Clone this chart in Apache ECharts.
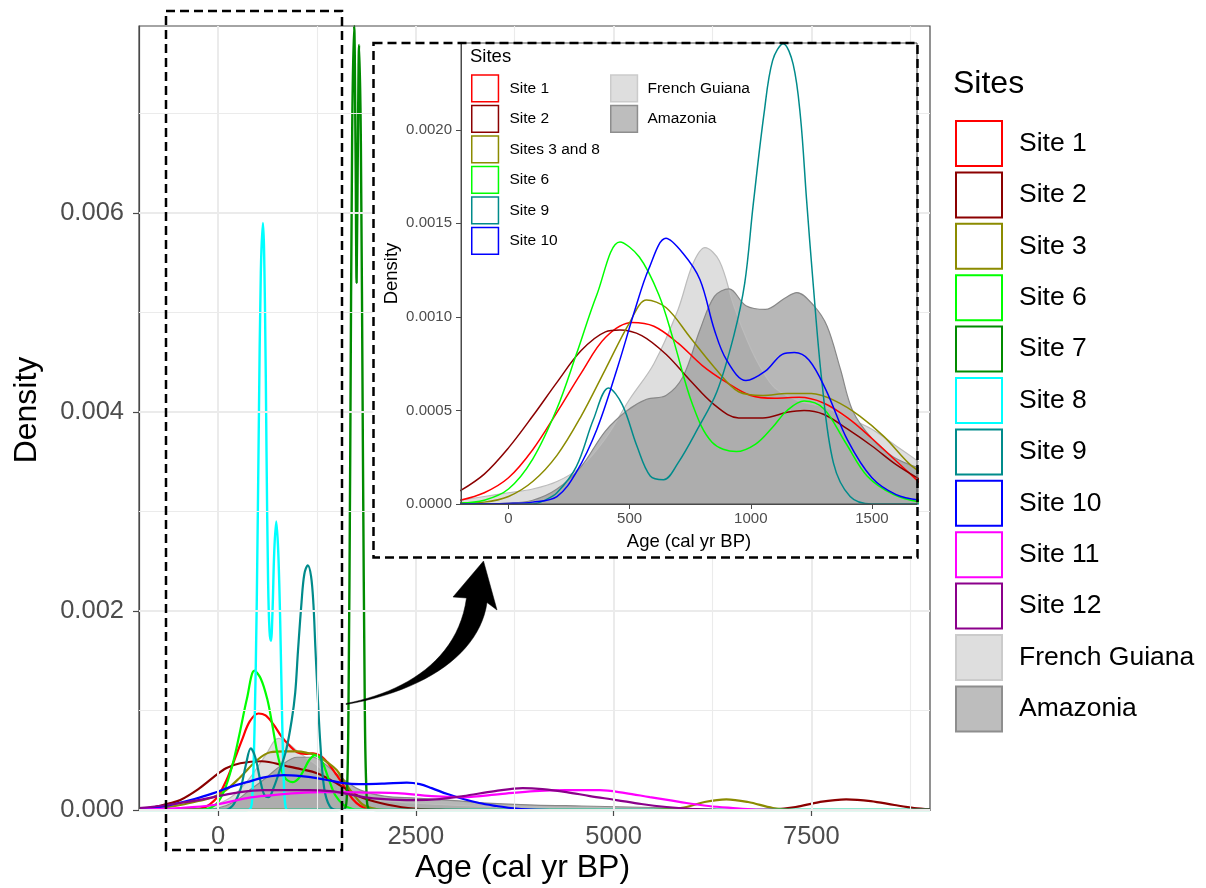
<!DOCTYPE html>
<html><head><meta charset="utf-8">
<script src="https://cdn.jsdelivr.net/npm/echarts@6/dist/echarts.min.js"></script>
<style>html,body{margin:0;padding:0;background:#fff}#c{width:1206px;height:888px}</style>
</head><body><div id="c"></div>
<script>
const FONT = '"Liberation Sans", Arial, Helvetica, sans-serif';

// ---------- tick values ----------
const mainXTicks = [0, 2500, 5000, 7500];
const mainXMinor = [1250, 3750, 6250, 8750];
const mainYTicks = [0, 0.002, 0.004, 0.006];
const mainYMinor = [0.001, 0.003, 0.005, 0.007];
const insetXTicks = [0, 500, 1000, 1500];
const insetXMinor = [250, 750, 1250];
const insetYTicks = [0, 0.0005, 0.001, 0.0015, 0.002];
const insetYMinor = [0.00025, 0.00075, 0.00125, 0.00175, 0.00225];

// ---------- legend names ----------
const mainLegendNames = ['Site 1','Site 2','Site 3','Site 6','Site 7','Site 8','Site 9','Site 10','Site 11','Site 12','French Guiana','Amazonia'];
const insetLegendNames1 = ['Site 1','Site 2','Sites 3 and 8','Site 6','Site 9','Site 10'];
const insetLegendNames2 = ['French Guiana','Amazonia'];

// ---------- inset data (age, density) ----------
const insetSite1 = [[-200,0.00002],[-100,0.00006],[0,0.00014],[100,0.00029],[200,0.00049],[300,0.0007],[400,0.00089],[510,0.00097],[600,0.00095],[700,0.00086],[800,0.00074],[900,0.00065],[1000,0.00058],[1100,0.000565],[1200,0.00057],[1300,0.00054],[1400,0.00046],[1500,0.00035],[1600,0.00023],[1700,0.00011]];
const insetSite2 = [[-200,0.00007],[-100,0.00016],[0,0.0003],[100,0.00047],[200,0.00065],[300,0.00082],[400,0.00092],[460,0.00093],[550,0.0009],[650,0.0008],[750,0.00066],[850,0.00053],[950,0.00046],[1050,0.00046],[1150,0.00049],[1220,0.0005],[1300,0.00048],[1400,0.0004],[1500,0.00031],[1600,0.00021],[1700,0.00013]];
const insetSites38 = [[-200,0.000005],[-100,0.00001],[0,0.00004],[100,0.00012],[200,0.00026],[300,0.00047],[400,0.00072],[500,0.00097],[570,0.00109],[650,0.00105],[750,0.00089],[850,0.00073],[950,0.0006],[1050,0.00058],[1150,0.00059],[1250,0.00059],[1350,0.00055],[1450,0.00047],[1550,0.00036],[1650,0.00022],[1700,0.00017]];
const insetSite6 = [[-200,0.000005],[-100,0.00002],[0,0.00008],[100,0.00024],[200,0.00051],[280,0.0008],[365,0.00112],[460,0.0014],[540,0.00132],[620,0.00112],[680,0.00088],[760,0.00053],[840,0.00033],[940,0.00028],[1020,0.00032],[1090,0.00041],[1150,0.0005],[1220,0.00055],[1300,0.00051],[1390,0.00033],[1480,0.00015],[1590,0.00005],[1700,0.00001]];
const insetSite9 = [[-200,0],[100,0],[150,0.00002],[200,0.00006],[280,0.0002],[350,0.00045],[413,0.00062],[470,0.00053],[530,0.00031],[585,0.00015],[640,0.00013],[700,0.00022],[780,0.0004],[860,0.0006],[930,0.0009],[975,0.00118],[1010,0.0016],[1055,0.00209],[1090,0.00237],[1134,0.00246],[1175,0.00235],[1205,0.00207],[1230,0.00163],[1256,0.0012],[1293,0.00066],[1341,0.00022],[1410,0.00004],[1500,0],[1700,0]];
const insetSite10 = [[-200,0],[0,0.000003],[100,0.00001],[200,0.00004],[280,0.00017],[365,0.0004],[450,0.00073],[520,0.00103],[580,0.00126],[650,0.00142],[720,0.00134],[790,0.0012],[850,0.00093],[900,0.00077],[980,0.00066],[1060,0.00071],[1130,0.0008],[1180,0.00081],[1240,0.00077],[1310,0.00061],[1400,0.00034],[1500,0.00014],[1600,0.00005],[1700,0.00002]];
const insetFG = [[-200,0.00002],[-100,0.00004],[0,0.00006],[100,0.00008],[200,0.00012],[300,0.0002],[400,0.00035],[500,0.00056],[600,0.00075],[700,0.00104],[760,0.00128],[811,0.00137],[870,0.0013],[930,0.00106],[990,0.00086],[1040,0.00073],[1100,0.00062],[1200,0.00055],[1300,0.00052],[1400,0.00046],[1500,0.0004],[1600,0.00031],[1700,0.00022]];
const insetAmaz = [[-200,0],[0,0.000005],[100,0.00002],[200,0.00008],[300,0.0002],[400,0.00039],[490,0.0005],[570,0.00056],[650,0.00058],[720,0.00068],[790,0.00093],[850,0.00111],[910,0.00115],[980,0.00106],[1060,0.00104],[1140,0.0011],[1190,0.00113],[1260,0.00106],[1315,0.00095],[1370,0.00072],[1420,0.0005],[1500,0.00035],[1590,0.00025],[1700,0.00019]];

// ---------- main data (age, density) ----------
const mainSite1 = [[-1000,0],[-700,0.000002],[-400,0.000008]].concat(insetSite1, [[1800,0.00004],[1900,0.00001],[2050,0],[9000,0]]);
const mainSite2 = [[-1000,0.00001],[-800,0.00003],[-600,0.00007],[-477,0.0001],[-250,0.00021],[-57,0.00033],[100,0.00042],[280,0.00047],[550,0.00049],[870,0.00044],[1050,0.00041],[1250,0.00037],[1450,0.00029],[1600,0.00022],[1800,0.00013],[2050,0.00007],[2400,0.00002],[2800,0.000003],[3200,0],[6700,0],[7000,0.000005],[7300,0.00003],[7600,0.00008],[7940,0.000107],[8250,0.00009],[8550,0.00005],[8800,0.00002],[9000,0.000008]];
const mainSite3 = [[-1000,0],[-700,0.00002],[-477,0.00005],[-250,0.00009],[-57,0.00013],[100,0.0002],[280,0.00033],[491,0.0005],[659,0.00058],[850,0.00059],[1000,0.00059],[1150,0.00057],[1248,0.00055],[1380,0.00048],[1501,0.0004],[1600,0.00028],[1700,0.00017],[1837,0.00005],[2000,0.00001],[2200,0],[5500,0],[5700,0.00001],[5920,0.00003],[6150,0.00008],[6425,0.000107],[6700,0.00008],[7014,0.00002],[7300,0],[9000,0]];
const mainSite6 = [[-1000,0],[-500,0.000001]].concat(insetSite6, [[1800,0.000003],[1950,0],[9000,0]]);
const mainSite7 = [[-1000,0],[1500,0],[1600,0.00001],[1630,0.0002],[1648,0.001],[1670,0.0035],[1695,0.0068],[1720,0.00788],[1738,0.0066],[1751,0.0053],[1764,0.0064],[1783,0.00769],[1805,0.0067],[1830,0.0037],[1855,0.001],[1875,0.0002],[1905,0.00001],[2000,0],[9000,0]];
const mainSite8 = [[-1000,0],[350,0],[400,0.000005],[430,0.0001],[460,0.0008],[489,0.0021],[515,0.0039],[540,0.0054],[567,0.0059],[592,0.0051],[612,0.0036],[632,0.0023],[650,0.0018],[668,0.0017],[688,0.002],[710,0.0026],[735,0.0029],[760,0.0026],[785,0.0019],[810,0.0009],[835,0.0002],[860,0.00001],[900,0],[9000,0]];
const mainSite9 = [[-1000,0]].concat(insetSite9, [[9000,0]]);
const mainSite10 = [[-1000,0.000005],[-800,0.00002],[-603,0.00005],[-300,0.00011],[-57,0.00017],[150,0.00023],[365,0.00028],[600,0.00033],[827,0.00035],[1050,0.00034],[1248,0.00032],[1450,0.00029],[1650,0.000265],[1837,0.00026],[2100,0.000265],[2385,0.000275],[2550,0.00026],[2700,0.00022],[2900,0.00016],[3100,0.00011],[3300,0.00007],[3521,0.00004],[3700,0.00002],[3950,0.000005],[4300,0],[9000,0]];
const mainSite11 = [[-1000,0.000005],[-500,0.00002],[-57,0.00005],[365,0.00012],[700,0.00015],[996,0.00017],[1300,0.00018],[1585,0.00018],[1900,0.000175],[2259,0.00017],[2700,0.00014],[3100,0.00013],[3564,0.00016],[4000,0.00019],[4400,0.0002],[4826,0.0002],[5150,0.00017],[5457,0.00013],[5700,0.0001],[5920,0.00007],[6200,0.00004],[6509,0.00002],[6800,0.000005],[7100,0],[9000,0]];
const mainSite12 = [[-1000,0.00002],[-750,0.00004],[-477,0.00007],[-250,0.0001],[-57,0.00013],[200,0.00017],[575,0.0002],[870,0.0002],[1150,0.0002],[1417,0.00019],[1650,0.00016],[1837,0.00013],[2100,0.00011],[2469,0.0001],[2800,0.00011],[3100,0.00014],[3500,0.00019],[3850,0.00022],[4100,0.00021],[4405,0.00018],[4700,0.00014],[5036,0.0001],[5350,0.00006],[5668,0.00003],[6000,0.00001],[6300,0],[9000,0]];
const mainFG = [[-1000,0],[-400,0.000005],[-200,0.00002],[0,0.00006],[200,0.00015],[400,0.00032],[600,0.00055],[764,0.00072],[900,0.00066],[1050,0.00056],[1250,0.00045],[1450,0.0003],[1650,0.00018],[1900,0.00011],[2300,0.00008],[2700,0.00006],[3200,0.00004],[3800,0.00003],[4500,0.00002],[5300,0.00001],[6000,0],[9000,0]];
const mainAmaz = [[-1000,0],[-300,0],[0,0.00002],[200,0.00008],[400,0.0002],[600,0.00032],[800,0.00045],[1000,0.00053],[1200,0.00053],[1400,0.00043],[1600,0.0003],[1800,0.0002],[2100,0.00014],[2500,0.00012],[2900,0.0001],[3400,0.00007],[4000,0.00005],[4600,0.00004],[5200,0.00003],[5800,0.00002],[6400,0.000005],[7000,0],[9000,0]];

// ---------- styles ----------
const COLORS = {
  'Site 1':'#FF0000','Site 2':'#8B0000','Site 3':'#8B8B00','Sites 3 and 8':'#8B8B00','Site 6':'#00FF00',
  'Site 7':'#008B00','Site 8':'#00FFFF','Site 9':'#008B8B','Site 10':'#0000FF','Site 11':'#FF00FF','Site 12':'#8B008B'
};
const AREA = {
  'French Guiana': {fill:'#d0d0d0', op:0.7, line:'#bcbcbc', legFill:'#dedede', legBorder:'#cbcbcb'},
  'Amazonia': {fill:'#999999', op:0.7, line:'#888888', legFill:'#bdbdbd', legBorder:'#8e8e8e'}
};

function gridLines(idx, xMaj, xMin, yMaj, yMin, majW, minW, z) {
  const d = [];
  xMaj.forEach(v => d.push({xAxis: v, lineStyle:{width: majW}}));
  xMin.forEach(v => d.push({xAxis: v, lineStyle:{width: minW}}));
  yMaj.forEach(v => d.push({yAxis: v, lineStyle:{width: majW}}));
  yMin.forEach(v => d.push({yAxis: v, lineStyle:{width: minW}}));
  return {type:'line', name:'_grid'+idx, xAxisIndex: idx, yAxisIndex: idx, data: [], z: z, silent: true,
    markLine: {silent:true, precision:10, symbol:['none','none'], label:{show:false}, emphasis:{disabled:true}, animation:false,
      lineStyle:{color:'#ebebeb', type:'solid', width: majW}, data: d}};
}
function lineS(name, data, idx, width, z) {
  return {type:'line', name, data, xAxisIndex: idx, yAxisIndex: idx, showSymbol:false, symbol:'none',
    smooth:0.35, lineStyle:{color: COLORS[name], width}, itemStyle:{color: COLORS[name]}, z, silent:true, clip:true};
}
function areaS(name, data, idx, z) {
  const a = AREA[name];
  return {type:'line', name, data, xAxisIndex: idx, yAxisIndex: idx, showSymbol:false, symbol:'none',
    smooth:0.35, lineStyle:{color: a.line, width: 1.2}, itemStyle:{color: a.fill},
    areaStyle:{color: a.fill, opacity: a.op}, z, silent:true, clip:true};
}
function legItem(name, bw) {
  if (AREA[name]) return {name, icon:'rect', itemStyle:{color: AREA[name].legFill, borderColor: AREA[name].legBorder, borderWidth: bw, opacity:1}};
  return {name, icon:'rect', itemStyle:{color:'#ffffff', borderColor: COLORS[name], borderWidth: bw, opacity:1}};
}
// curved arrow annotation: tapered body sampled from two cubic Bezier edges + head
function bez(p0, p1, p2, p3, n) {
  const pts = [];
  for (let i = 0; i <= n; i++) {
    const t = i / n, u = 1 - t;
    pts.push([u*u*u*p0[0] + 3*u*u*t*p1[0] + 3*u*t*t*p2[0] + t*t*t*p3[0],
              u*u*u*p0[1] + 3*u*u*t*p1[1] + 3*u*t*t*p2[1] + t*t*t*p3[1]]);
  }
  return pts;
}
const arrowPts = bez([346,703.5],[405,692],[458,660],[466.5,598],24)
  .concat([[453,597],[483.5,561],[497,610]])
  .concat(bez([487,602.5],[480,652],[428,690],[346,704.5],24));

const axisCommon = (fs, color) => ({fontSize: fs, color: color, fontFamily: FONT});

const option = {
  animation: false,
  backgroundColor: '#ffffff',
  title: [
    {text:'Sites', left:953, top:68, padding:0, z:20, textStyle:{fontSize:32, fontWeight:'normal', color:'#000', fontFamily:FONT}},
    {text:'Sites', left:470, top:47.5, padding:0, z:20, textStyle:{fontSize:18.5, fontWeight:'normal', color:'#000', fontFamily:FONT}}
  ],
  legend: [
    {left:955, top:120, orient:'vertical', padding:0, itemWidth:46, itemHeight:45, itemGap:4.4, symbolKeepAspect:false,
      selectedMode:false, z:20, textStyle:{fontSize:26.5, color:'#000', fontFamily:FONT, padding:[0,0,0,12]},
      data: mainLegendNames.map(n => legItem(n, 2))},
    {left:471, top:74.3, orient:'vertical', padding:0, itemWidth:26.7, itemHeight:26.7, itemGap:2.3, symbolKeepAspect:false,
      selectedMode:false, z:20, textStyle:{fontSize:15.5, color:'#000', fontFamily:FONT, padding:[0,0,0,6]},
      data: insetLegendNames1.map(n => legItem(n, 1.5))},
    {left:610, top:74.3, orient:'vertical', padding:0, itemWidth:26.7, itemHeight:26.7, itemGap:2.3, symbolKeepAspect:false,
      selectedMode:false, z:20, textStyle:{fontSize:15.5, color:'#000', fontFamily:FONT, padding:[0,0,0,5]},
      data: insetLegendNames2.map(n => legItem(n, 1.5))}
  ],
  grid: [
    {left:139, right:276, top:26, bottom:78, show:true, borderColor:'#4a4a4a', borderWidth:1.2, backgroundColor:'transparent', z:4, containLabel:false, outerBoundsMode:'none'},
    {left:461, right:289, top:43, bottom:384, show:true, borderColor:'#4a4a4a', borderWidth:1, backgroundColor:'transparent', z:14, containLabel:false, outerBoundsMode:'none'}
  ],
  xAxis: [
    {gridIndex:0, type:'value', min:-1000, max:9000, z:4,
      name:'Age (cal yr BP)', nameLocation:'middle', nameGap:42, nameMoveOverlap:false,
      nameTextStyle:{fontSize:32, color:'#000', fontFamily:FONT, padding:[0,24,0,0]},
      axisLine:{show:true, onZero:false, lineStyle:{color:'#4a4a4a', width:1.2}},
      axisTick:{show:true, customValues: mainXTicks, length:6, lineStyle:{color:'#4a4a4a', width:1.2}},
      axisLabel:Object.assign({customValues: mainXTicks, margin:14, formatter: v => String(Math.round(v))}, axisCommon(25.5,'#4d4d4d')),
      splitLine:{show:false}, minorSplitLine:{show:false}},
    {gridIndex:1, type:'value', min:-196, max:1686, z:14,
      name:'Age (cal yr BP)', nameLocation:'middle', nameGap:28, nameMoveOverlap:false,
      nameTextStyle:{fontSize:18.5, color:'#000', fontFamily:FONT},
      axisLine:{show:true, onZero:false, lineStyle:{color:'#4a4a4a', width:1}},
      axisTick:{show:true, customValues: insetXTicks, length:5, lineStyle:{color:'#4a4a4a', width:1}},
      axisLabel:Object.assign({customValues: insetXTicks, margin:7, formatter: v => String(Math.round(v))}, axisCommon(15,'#4d4d4d')),
      splitLine:{show:false}, minorSplitLine:{show:false}}
  ],
  yAxis: [
    {gridIndex:0, type:'value', min:0, max:0.00788, z:4,
      name:'Density', nameLocation:'middle', nameGap:96, nameMoveOverlap:false,
      nameTextStyle:{fontSize:32, color:'#000', fontFamily:FONT, padding:[0,0,0,16]},
      axisLine:{show:true, onZero:false, lineStyle:{color:'#4a4a4a', width:1.2}},
      axisTick:{show:true, customValues: mainYTicks, length:6, lineStyle:{color:'#4a4a4a', width:1.2}},
      axisLabel:Object.assign({customValues: mainYTicks, margin:15, formatter: v => Number(v).toFixed(3)}, axisCommon(25.5,'#4d4d4d')),
      splitLine:{show:false}, minorSplitLine:{show:false}},
    {gridIndex:1, type:'value', min:0, max:0.002464, z:14,
      name:'Density', nameLocation:'middle', nameGap:60, nameMoveOverlap:false,
      nameTextStyle:{fontSize:18.5, color:'#000', fontFamily:FONT},
      axisLine:{show:true, onZero:false, lineStyle:{color:'#4a4a4a', width:1}},
      axisTick:{show:true, customValues: insetYTicks, length:5, lineStyle:{color:'#4a4a4a', width:1}},
      axisLabel:Object.assign({customValues: insetYTicks, margin:9, formatter: v => Number(v).toFixed(4)}, axisCommon(15,'#4d4d4d')),
      splitLine:{show:false}, minorSplitLine:{show:false}}
  ],
  graphic: {elements: [
    {type:'rect', z:10, silent:true, shape:{x:373.5, y:43, width:544, height:514.5}, style:{fill:'#ffffff'}},
    {type:'rect', z:30, silent:true, shape:{x:373.5, y:43, width:544, height:514.5}, style:{fill:'none', stroke:'#000', lineWidth:2.5, lineDash:[9,5]}},
    {type:'rect', z:30, silent:true, shape:{x:166, y:11, width:176, height:839}, style:{fill:'none', stroke:'#000', lineWidth:2.5, lineDash:[9,5]}},
    {type:'polygon', z:30, silent:true, shape:{points: arrowPts}, style:{fill:'#000', stroke:'#000', lineWidth:0.5}}
  ]},
  series: [
    gridLines(0, mainXTicks, mainXMinor, mainYTicks, mainYMinor, 2, 1.1, 1),
    areaS('French Guiana', mainFG, 0, 2),
    areaS('Amazonia', mainAmaz, 0, 2),
    lineS('Site 1', mainSite1, 0, 2.2, 3),
    lineS('Site 2', mainSite2, 0, 2.2, 3),
    lineS('Site 3', mainSite3, 0, 2.2, 3),
    lineS('Site 6', mainSite6, 0, 2.2, 3),
    lineS('Site 7', mainSite7, 0, 2.4, 3),
    lineS('Site 8', mainSite8, 0, 2.4, 3),
    lineS('Site 9', mainSite9, 0, 2.2, 3),
    lineS('Site 10', mainSite10, 0, 2.2, 3),
    lineS('Site 11', mainSite11, 0, 2.2, 3),
    lineS('Site 12', mainSite12, 0, 2.2, 3),
    gridLines(1, insetXTicks, insetXMinor, insetYTicks, insetYMinor, 1.2, 0.7, 11),
    areaS('French Guiana', insetFG, 1, 12),
    areaS('Amazonia', insetAmaz, 1, 12),
    lineS('Site 1', insetSite1, 1, 1.5, 13),
    lineS('Site 2', insetSite2, 1, 1.5, 13),
    lineS('Sites 3 and 8', insetSites38, 1, 1.5, 13),
    lineS('Site 6', insetSite6, 1, 1.5, 13),
    lineS('Site 9', insetSite9, 1, 1.5, 13),
    lineS('Site 10', insetSite10, 1, 1.5, 13)
  ]
};

const chart = echarts.init(document.getElementById('c'), null, {renderer:'canvas'});
chart.setOption(option);
</script>
</body></html>
